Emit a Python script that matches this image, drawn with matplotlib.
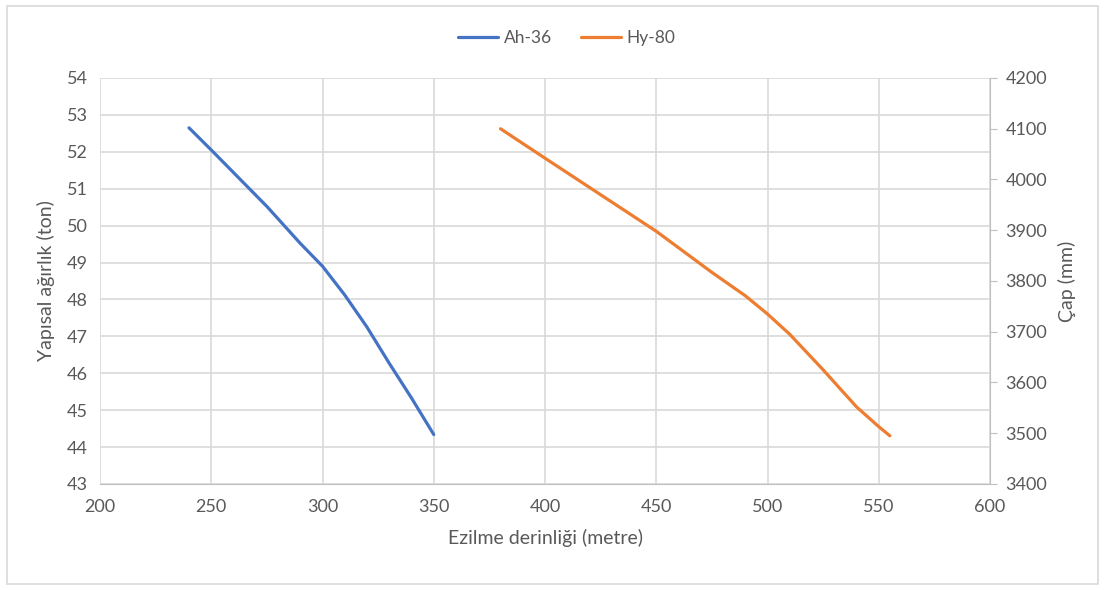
import matplotlib.pyplot as plt
from matplotlib.patches import Rectangle

# Ah-36 (sol eksen, ton)
ah36_depth = [240, 250, 275, 290, 300, 310, 320, 330, 340, 350]
ah36_weight = [52.65, 52.05, 50.52, 49.52, 48.9, 48.12, 47.25, 46.27, 45.33, 44.34]

# Hy-80 (sağ eksen, mm)
hy80_depth = [380, 400, 425, 450, 475, 490, 500, 510, 525, 540, 550, 555]
hy80_diam = [4100, 4042, 3970, 3898, 3817, 3771, 3735, 3695, 3625, 3552, 3513, 3495]

x_ticks = [200, 250, 300, 350, 400, 450, 500, 550, 600]
left_ticks = list(range(43, 55))
right_ticks = list(range(3400, 4201, 100))

TXT = '#595959'
GRID = '#d9d9d9'
plt.rcParams['font.family'] = ['Lato', 'DejaVu Sans']

fig = plt.figure(figsize=(11.05, 5.9), dpi=100)
ax = fig.add_axes([100 / 1105, 1 - 484 / 590, 890 / 1105, 406 / 590])
ax2 = ax.twinx()

l1, = ax.plot(ah36_depth, ah36_weight, color='#4472C4', lw=2.3, label='Ah-36',
              solid_capstyle='round', solid_joinstyle='round')
l2, = ax2.plot(hy80_depth, hy80_diam, color='#ED7D31', lw=2.3, label='Hy-80',
               solid_capstyle='round', solid_joinstyle='round')

ax.set_xlim(200, 600)
ax.set_ylim(43, 54)
ax2.set_ylim(3400, 4200)
ax.set_xticks(x_ticks)
ax.set_yticks(left_ticks)
ax2.set_yticks(right_ticks)

ax.grid(True, color=GRID, lw=1.2)
ax.set_axisbelow(True)
for s in ['top', 'left', 'right']:
    ax.spines[s].set_visible(False)
for s in ['top', 'left', 'bottom']:
    ax2.spines[s].set_visible(False)
ax.spines['bottom'].set_color('#bfbfbf')
ax2.spines['right'].set_color('#bfbfbf')

ax.tick_params(axis='both', length=0, labelsize=13, colors=TXT, pad=9)
ax.tick_params(axis='x', pad=11)
ax2.tick_params(axis='y', length=5, color='#bfbfbf', labelsize=13, colors=TXT, pad=6)

ax.set_xlabel('Ezilme derinliği (metre)', fontsize=14, color=TXT, labelpad=10)
ax.set_ylabel('Yapısal ağırlık (ton)', fontsize=14, color=TXT, labelpad=8)
ax2.set_ylabel('Çap (mm)', fontsize=14, color=TXT, labelpad=8)

fig.legend(handles=[l1, l2], loc='center', bbox_to_anchor=(0.513, 1 - 38 / 590),
           ncol=2, frameon=False, fontsize=12.5, labelcolor=TXT,
           handlelength=2.3, columnspacing=1.7, handletextpad=0.3)

fig.patches.append(Rectangle((7 / 1105, 6 / 590), 1091 / 1105, 578 / 590,
                             transform=fig.transFigure, fill=False,
                             edgecolor=GRID, lw=1.2))

fig.savefig('out.png', dpi=100)
